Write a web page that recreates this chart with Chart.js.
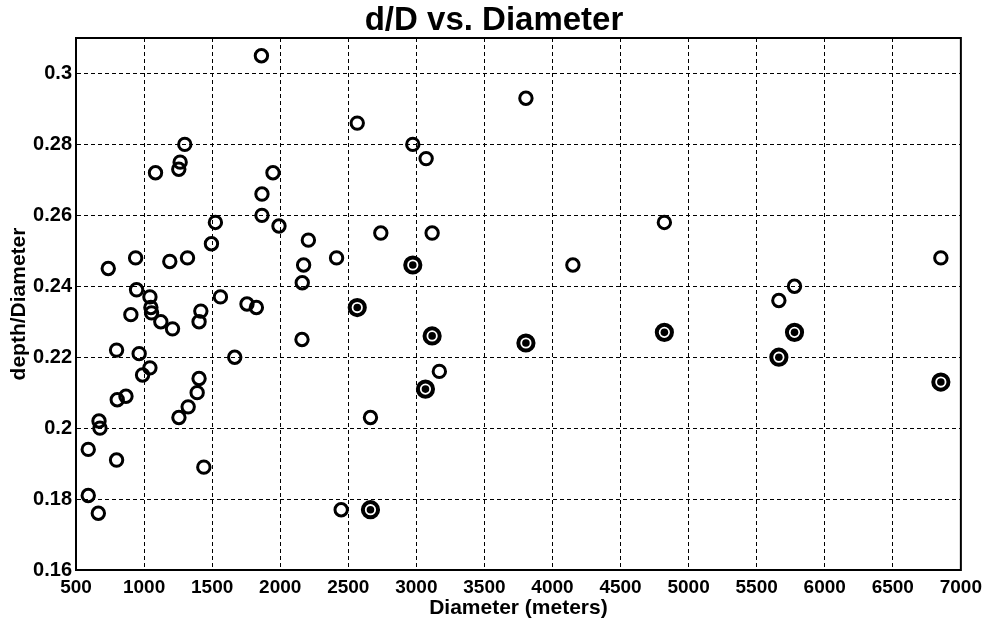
<!DOCTYPE html>
<html>
<head>
<meta charset="utf-8">
<script src="https://cdn.jsdelivr.net/npm/chart.js@4"></script>
<style>
  html, body { margin: 0; padding: 0; background: #fff; }
  #wrap { width: 988px; height: 626px; }
</style>
</head>
<body>
<div id="wrap"><canvas id="chart_dd"></canvas></div>
<script>
// crater diameter (m) and depth/diameter, open circles
const diamOpen = [1862, 1299, 1265, 1255, 1084, 1947, 1866, 1866, 1991, 1524, 1495, 2207,
  737, 938, 1189, 1319, 2172, 2162, 945, 1043, 1050, 1055, 1561, 1756, 1825, 1417, 903,
  1123, 1209, 1404, 2160, 798, 964, 1666, 1043, 989, 1404, 1390, 1324, 1256, 867, 803,
  669, 676, 590, 798, 1439, 590, 664, 3805, 2566, 2974, 3072, 2739, 3116, 2414, 4150,
  3169, 2663, 2448, 4822, 6853, 5778, 5663];
const ratioOpen = [0.305, 0.280, 0.275, 0.273, 0.272, 0.272, 0.266, 0.260, 0.257, 0.258, 0.252, 0.253,
  0.245, 0.248, 0.247, 0.248, 0.246, 0.241, 0.239, 0.237, 0.234, 0.2325, 0.237, 0.235, 0.234, 0.233, 0.232,
  0.230, 0.228, 0.230, 0.225, 0.222, 0.221, 0.220, 0.217, 0.215, 0.214, 0.210, 0.206, 0.203, 0.209, 0.208,
  0.202, 0.200, 0.194, 0.191, 0.189, 0.181, 0.176, 0.293, 0.286, 0.280, 0.276, 0.255, 0.255, 0.248, 0.246,
  0.216, 0.203, 0.177, 0.258, 0.248, 0.240, 0.236];

// marked craters (circle with centre dot)
const diamMarked = [2974, 2566, 3116, 3805, 3067, 2663, 4822, 5778, 5663, 6853];
const ratioMarked = [0.246, 0.234, 0.226, 0.224, 0.211, 0.177, 0.227, 0.227, 0.220, 0.213];

const xTicks = [500, 1000, 1500, 2000, 2500, 3000, 3500, 4000, 4500, 5000, 5500, 6000, 6500, 7000];
const yTicks = [0.16, 0.18, 0.2, 0.22, 0.24, 0.26, 0.28, 0.3];

const openPts = diamOpen.map((d, i) => ({ x: d, y: ratioOpen[i] }));
const markedPts = diamMarked.map((d, i) => ({ x: d, y: ratioMarked[i] }));

const FONT = "'Liberation Sans', Arial, sans-serif";

// solid box round the plot area, like matlab's axes
const boxPlugin = {
  id: "axesBox",
  afterDraw(chart) {
    const { ctx, chartArea: a } = chart;
    ctx.save();
    ctx.strokeStyle = "#000";
    ctx.lineWidth = 2;
    ctx.setLineDash([]);
    ctx.strokeRect(a.left, a.top, a.right - a.left, a.bottom - a.top);
    ctx.restore();
  },
};

const ctx = document.getElementById("chart_dd").getContext("2d");
const myChart = new Chart(ctx, {
  type: "scatter",
  data: {
    datasets: [
      {
        data: openPts,
        order: 3,
        pointStyle: "circle",
        pointRadius: 6.2,
        pointBorderWidth: 3,
        pointBorderColor: "#000",
        pointBackgroundColor: "rgba(0,0,0,0)",
      },
      {
        data: markedPts,
        order: 2,
        pointStyle: "circle",
        pointRadius: 7.6,
        pointBorderWidth: 4,
        pointBorderColor: "#000",
        pointBackgroundColor: "#fff",
      },
      {
        data: markedPts,
        order: 1,
        pointStyle: "circle",
        pointRadius: 3.8,
        pointBorderWidth: 0,
        pointBackgroundColor: "#000",
      },
    ],
  },
  options: {
    responsive: true,
    maintainAspectRatio: false,
    animation: false,
    layout: {
      padding: 0,
    },
    plugins: {
      legend: { display: false },
      tooltip: { enabled: false },
      title: {
        display: true,
        text: "d/D vs. Diameter",
        color: "#000",
        font: { family: FONT, size: 33, weight: "bold", lineHeight: 1 },
        padding: { top: 4, bottom: 1 },
      },
    },
    scales: {
      x: {
        type: "linear",
        min: 500,
        max: 7000,
        afterBuildTicks: (s) => { s.ticks = xTicks.map((v) => ({ value: v })); },
        afterFit: (s) => { s.height = 56; },
        ticks: {
          color: "#000",
          font: { family: FONT, size: 19, weight: "bold" },
          padding: 6,
          maxRotation: 0,
          callback: (v) => String(v),
        },
        grid: { color: "#000", lineWidth: 1, drawTicks: false },
        border: { display: true, color: "#000", width: 2, dash: [4, 3] },
        title: {
          display: true,
          text: "Diameter (meters)",
          color: "#000",
          font: { family: FONT, size: 21, weight: "bold", lineHeight: 1 },
          padding: { top: 0, bottom: 7 },
        },
      },
      y: {
        type: "linear",
        min: 0.16,
        max: 0.31,
        afterBuildTicks: (s) => { s.ticks = yTicks.map((v) => ({ value: v })); },
        afterFit: (s) => { s.width = 76; },
        ticks: {
          color: "#000",
          font: { family: FONT, size: 20, weight: "bold" },
          padding: 4,
          callback: (v) => String(+v.toFixed(2)),
        },
        grid: { color: "#000", lineWidth: 1, drawTicks: false },
        border: { display: true, color: "#000", width: 2, dash: [4, 3] },
        title: {
          display: true,
          text: "depth/Diameter",
          color: "#000",
          font: { family: FONT, size: 21, weight: "bold", lineHeight: 1 },
          padding: { top: 9, bottom: 0 },
        },
      },
      // empty right axis, only keeps the gap on the right of the plot
      yRight: {
        type: "linear",
        position: "right",
        display: true,
        afterFit: (s) => { s.width = 26; },
        ticks: { display: false },
        grid: { display: false, drawOnChartArea: false },
        border: { display: false },
      },
    },
  },
  plugins: [boxPlugin],
});
</script>
</body>
</html>
